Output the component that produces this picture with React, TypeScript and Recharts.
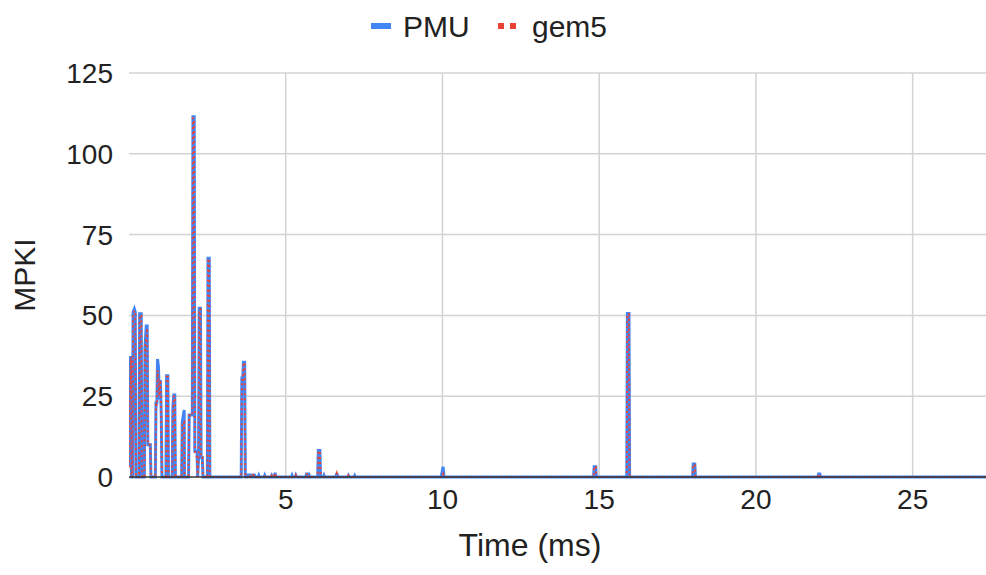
import React from 'react';
import { LineChart, Line, XAxis, YAxis, CartesianGrid } from 'recharts';

// sample times (ms), grouped per burst
const timeMs = [
  0, 0.01, 0.04, 0.06, 0.08,
  0.11, 0.13, 0.17, 0.2, 0.22,
  0.32, 0.34, 0.39, 0.41,
  0.49, 0.51, 0.55, 0.58, 0.6, 0.68, 0.7,
  0.84, 0.86, 0.89, 0.91, 0.94, 0.97, 1.0, 1.03, 1.05,
  1.18, 1.2, 1.24, 1.26,
  1.38, 1.4, 1.43, 1.46, 1.48,
  1.68, 1.7, 1.76, 1.77,
  1.9, 1.92, 2.02, 2.04, 2.08, 2.1, 2.17, 2.19,
  2.22, 2.24, 2.28, 2.3, 2.34, 2.36,
  2.5, 2.52, 2.56, 2.58,
  3.58, 3.6, 3.63, 3.65, 3.69, 3.71,
  3.78, 3.8, 3.86, 3.88, 3.93, 3.95, 4.0, 4.02,
  4.12, 4.14, 4.16, 4.31, 4.33, 4.35, 4.53, 4.55, 4.57, 4.63, 4.66, 4.69,
  5.18, 5.2, 5.22, 5.3, 5.32, 5.34, 5.64, 5.67, 5.7, 5.73, 5.75, 5.77,
  6.02, 6.04, 6.09, 6.11,
  6.2, 6.22, 6.24, 6.6, 6.63, 6.66, 6.98, 7.0, 7.02, 7.18, 7.2, 7.22,
  9.96, 10.02, 10.05,
  14.82, 14.84, 14.89, 14.91,
  15.88, 15.9, 15.95, 15.97,
  17.98, 18.0, 18.05, 18.07,
  21.98, 22.0, 22.04, 22.06,
  27.34,
];

const pmuMpki = [
  3, 37, 37, 36, 0,
  0, 51, 52, 51, 0,
  0, 50.5, 50.5, 0,
  0, 40, 46.7, 46.7, 10, 10, 0,
  0, 23, 23, 36.5, 34, 24, 30, 19, 0,
  0, 31.3, 31.3, 0,
  0, 21.7, 25.4, 25.4, 0,
  0, 17, 20.7, 0,
  0, 19.2, 19.2, 111.5, 111.5, 8, 8, 0,
  6, 52.2, 52.2, 6, 6, 0,
  0, 67.7, 67.7, 0,
  0, 30.6, 30.6, 35.5, 35.5, 0,
  0, 0.6, 0.6, 0, 0, 0.6, 0.6, 0,
  0, 0.5, 0, 0, 0.5, 0, 0, 0.4, 0, 0, 1.3, 0,
  0, 0.5, 0, 0, 0.5, 0, 0, 1.3, 0, 0, 0.5, 0,
  0, 8.2, 8.2, 0,
  0, 0.5, 0, 0, 1.2, 0, 0, 0.4, 0, 0, 0.4, 0,
  0, 3.2, 0,
  0, 3.2, 3.2, 0,
  0, 50.6, 50.6, 0,
  0, 4, 4, 0,
  0, 0.9, 0.9, 0,
  0,
];

const gem5Mpki = [
  3, 23, 25, 37, 0,
  0, 50, 51.5, 51, 0,
  0, 50, 50, 0,
  0, 40, 43, 46, 10, 10, 0,
  0, 23, 22, 33, 30, 25, 30, 19, 0,
  0, 31, 31, 0,
  0, 21, 25, 25, 0,
  0, 16.5, 17, 0,
  0, 19, 19, 111, 111, 8, 6, 0,
  6, 52, 52, 6, 6, 0,
  0, 67.5, 67.5, 0,
  0, 30, 30, 35.3, 35.3, 0,
  0, 0.6, 0.6, 0, 0, 0.6, 0.6, 0,
  0, 0.5, 0, 0, 0.5, 0, 0, 0.4, 0, 0, 1.2, 0,
  0, 0.5, 0, 0, 0.5, 0, 0, 1.2, 0, 0, 0.5, 0,
  0, 8, 8, 0,
  0, 0.5, 0, 0, 1.1, 0, 0, 0.4, 0, 0, 0.4, 0,
  0, 1, 0,
  0, 3.2, 3.2, 0,
  0, 50.4, 50.4, 0,
  0, 3.8, 3.8, 0,
  0, 0.8, 0.8, 0,
  0,
];

const xTicks = [5, 10, 15, 20, 25];
const yTicks = [0, 25, 50, 75, 100, 125];

const data = timeMs.map((t, i) => ({ t, pmu: pmuMpki[i], gem5: gem5Mpki[i] }));

const FONT = '"Liberation Sans", Arial, sans-serif';
const BLUE = '#4285f4';
const RED = '#ea4335';

export default function App() {
  return (
    <div style={{ position: 'absolute', left: 0, top: 0, width: 986, height: 575, background: '#fff', fontFamily: FONT, color: '#222' }}>
      <LineChart width={986} height={575} data={data} margin={{ top: 73, right: 0, bottom: 60, left: 0 }}>
        <CartesianGrid stroke="#d3d3d3" strokeWidth={1.5} horizontalValues={yTicks.slice(1)} verticalValues={xTicks} />
        <XAxis
          type="number"
          dataKey="t"
          domain={[0, 27.34]}
          ticks={xTicks}
          allowDataOverflow
          height={38}
          tickSize={0}
          tickMargin={12}
          axisLine={{ stroke: '#333', strokeWidth: 1.5 }}
          tick={{ fill: '#222', fontSize: 28, fontFamily: FONT }}
        />
        <YAxis
          type="number"
          domain={[0, 125]}
          ticks={yTicks}
          width={129}
          tickSize={0}
          tickMargin={16}
          axisLine={false}
          tick={{ fill: '#222', fontSize: 28, fontFamily: FONT }}
        />
        <Line type="linear" dataKey="pmu" stroke={BLUE} strokeWidth={3} dot={false} isAnimationActive={false} />
        <Line type="linear" dataKey="gem5" stroke={RED} strokeWidth={2} strokeDasharray="2 3" dot={false} isAnimationActive={false} />
      </LineChart>

      {/* legend */}
      <div style={{ position: 'absolute', left: 371, top: 23, width: 20, height: 6, background: BLUE }} />
      <div style={{ position: 'absolute', left: 403, top: 10, fontSize: 30, lineHeight: '34px' }}>PMU</div>
      <div style={{ position: 'absolute', left: 498, top: 23, width: 6, height: 6, background: RED }} />
      <div style={{ position: 'absolute', left: 510, top: 23, width: 6, height: 6, background: RED }} />
      <div style={{ position: 'absolute', left: 532, top: 10, fontSize: 30, lineHeight: '34px' }}>gem5</div>

      {/* axis titles */}
      <div style={{ position: 'absolute', left: 25, top: 275, fontSize: 30, whiteSpace: 'nowrap', transform: 'translate(-50%, -50%) rotate(-90deg)' }}>MPKI</div>
      <div style={{ position: 'absolute', left: 530, top: 545, fontSize: 32, whiteSpace: 'nowrap', transform: 'translate(-50%, -50%)' }}>Time (ms)</div>
    </div>
  );
}
